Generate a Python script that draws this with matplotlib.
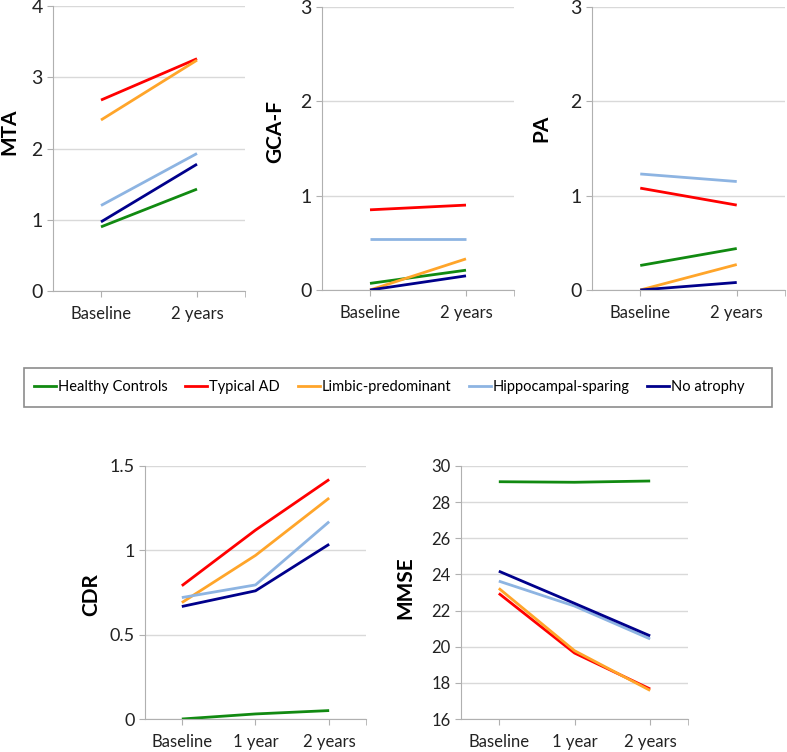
import numpy as np
import matplotlib
matplotlib.use("Agg")
import matplotlib.pyplot as plt
from matplotlib.patches import Rectangle
from matplotlib.lines import Line2D

plt.rcParams['font.family'] = ['Lato', 'DejaVu Sans']

# groups and colours
groups = ["Healthy Controls", "Typical AD", "Limbic-predominant",
          "Hippocampal-sparing", "No atrophy"]
colors = ["#118A11", "#FF0000", "#FFA52A", "#8DB4E2", "#00008B"]

visits2 = ["Baseline", "2 years"]
visits3 = ["Baseline", "1 year", "2 years"]

# values (one row per group)
mta = [[0.90, 1.43], [2.68, 3.26], [2.40, 3.24], [1.20, 1.93], [0.97, 1.78]]
gcaf = [[0.07, 0.21], [0.85, 0.90], [0.00, 0.33], [0.54, 0.54], [0.00, 0.15]]
pa = [[0.26, 0.44], [1.08, 0.90], [0.00, 0.27], [1.23, 1.15], [0.00, 0.08]]
cdr = [[0.00, 0.03, 0.05], [0.79, 1.12, 1.42], [0.69, 0.97, 1.31],
       [0.72, 0.795, 1.17], [0.667, 0.76, 1.036]]
mmse = [[29.13, 29.10, 29.17], [22.95, 19.65, 17.66], [23.23, 19.78, 17.58],
        [23.63, 22.25, 20.43], [24.18, 22.40, 20.60]]

W, H = 787, 752
fig = plt.figure(figsize=(W / 100, H / 100), dpi=100)


def make_ax(l, r, t, b):
    return fig.add_axes([l / W, 1 - b / H, (r - l) / W, (b - t) / H])


def draw(ax, data, visits, yticks, ylabels, ylabel, lab_xy, tsize):
    x = np.arange(len(visits))
    for vals, c in zip(data, colors):
        ax.plot(x, vals, color=c, lw=2.0, solid_capstyle='butt')
    ax.set_xlim(-0.5, len(visits) - 0.5)
    ax.set_ylim(yticks[0], yticks[-1])
    ax.set_yticks(yticks)
    ax.set_yticklabels(ylabels, fontsize=tsize)
    ax.set_xticks(x)
    ax.set_xticklabels(visits, fontsize=12)
    ax.set_xticks([len(visits) - 0.5], minor=True)
    ax.grid(axis='y', color='#D9D9D9', lw=1)
    ax.set_axisbelow(True)
    for s in ['top', 'right']:
        ax.spines[s].set_visible(False)
    for s in ['left', 'bottom']:
        ax.spines[s].set_color('#B0B0B0')
    ax.tick_params(axis='both', which='both', color='#B0B0B0', length=4,
                   labelcolor='#222222')
    ax.tick_params(axis='x', pad=7)
    ax.set_ylabel(ylabel, fontsize=15, fontweight='bold')
    ax.yaxis.set_label_coords(*lab_xy)


ax1 = make_ax(53, 245, 6, 291)
draw(ax1, mta, visits2, [0, 1, 2, 3, 4], ["0", "1", "2", "3", "4"],
     "MTA", (-0.175, 0.56), 14)
ax2 = make_ax(322, 514, 7, 290)
draw(ax2, gcaf, visits2, [0, 1, 2, 3], ["0", "1", "2", "3"],
     "GCA-F", (-0.19, 0.56), 14)
ax3 = make_ax(592, 785, 7, 290)
draw(ax3, pa, visits2, [0, 1, 2, 3], ["0", "1", "2", "3"],
     "PA", (-0.21, 0.57), 14)
ax4 = make_ax(145, 366, 466, 719)
draw(ax4, cdr, visits3, [0, 0.5, 1, 1.5], ["0", "0.5", "1", "1.5"],
     "CDR", (-0.20, 0.49), 13)
ax5 = make_ax(461, 688, 466, 719)
draw(ax5, mmse, visits3, list(range(16, 31, 2)),
     [str(v) for v in range(16, 31, 2)], "MMSE", (-0.20, 0.52), 12)

# legend in a box across the middle
fig.patches.append(Rectangle((24 / W, 1 - 407 / H), (772 - 24) / W, 39 / H,
                             transform=fig.transFigure, fill=False,
                             edgecolor='#8C8C8C', lw=1.2))
handles = [Line2D([], [], color=c, lw=2.0) for c in colors]
fig.legend(handles, groups, loc='center', bbox_to_anchor=(389.5 / W, 1 - 387.5 / H),
           ncol=5, frameon=False, fontsize=10.5, handlelength=1.5,
           handletextpad=0.15, columnspacing=1.2)

fig.savefig("out.png", dpi=100)
